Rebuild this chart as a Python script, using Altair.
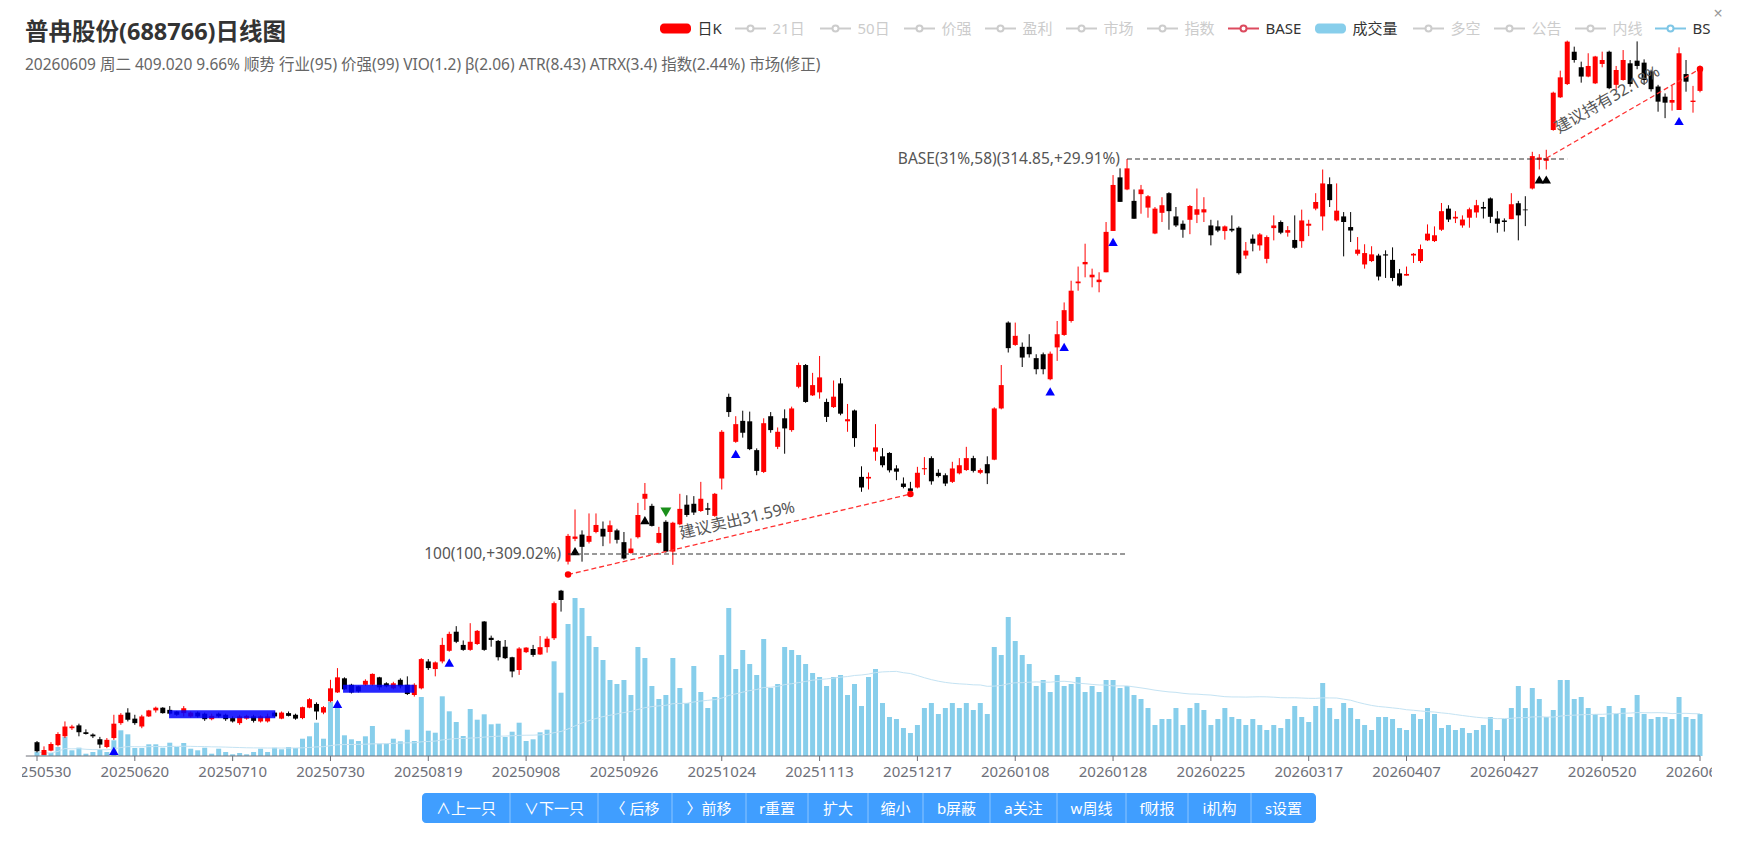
import math
import altair as alt
import numpy as np
import pandas as pd

# ---------------- data ----------------
TICK_EVERY = 14
TICK_LABELS = ["20250530", "20250620", "20250710", "20250730", "20250819", "20250908",
               "20250926", "20251024", "20251113", "20251217", "20260108", "20260128",
               "20260225", "20260317", "20260407", "20260427", "20260520", "20260609"]

OPEN = [57.9, 55.8, 56.5, 57.4, 58.9, 60.3, 60.8, 59.6, 59.2, 58.4,
        57.1, 58.6, 61.2, 63.1, 62.0, 60.6, 62.4, 63.5, 64.0, 63.6,
        63.3, 63.0, 62.4, 63.1, 62.9, 61.9, 62.9, 62.7, 62.1, 61.2,
        62.0, 62.4, 61.5, 61.5, 63.1, 62.0, 63.0, 62.7, 62.1, 64.0,
        64.7, 63.1, 65.2, 66.9, 69.7, 68.4, 68.1, 68.4, 68.4, 69.9,
        68.7, 67.7, 69.4, 68.4, 66.4, 67.7, 73.2, 71.6, 73.2, 75.5,
        79.8, 76.8, 75.7, 77.0, 82.2, 78.4, 77.7, 76.4, 74.1, 71.4,
        75.2, 75.9, 74.7, 76.3, 78.3, 89.9, 97.8, 104.5, 105.8, 103.6,
        106.6, 107.6, 106.6, 107.1, 103.5, 100.3, 105.0, 117.4, 115.0, 103.3,
        109.8, 100.7, 109.0, 115.4, 115.7, 113.3, 114.2, 111.7, 124.5, 157.8,
        138.5, 147.2, 147.0, 135.2, 126.9, 149.2, 136.5, 148.3, 143.3, 162.5,
        173.1, 158.5, 159.9, 155.5, 153.2, 164.1, 147.0, 151.7, 125.1, 124.5,
        134.6, 132.8, 134.1, 128.2, 122.7, 121.0, 121.3, 127.9, 132.1, 126.6,
        125.7, 123.3, 126.4, 127.6, 132.1, 126.6, 129.8, 131.5, 152.6, 195.8,
        183.5, 182.5, 182.5, 176.6, 178.6, 166.1, 182.2, 188.9, 196.7, 219.5,
        231.9, 223.3, 220.2, 226.6, 255.5, 298.5, 288.2, 278.8, 284.3, 273.4,
        253.6, 269.3, 285.1, 266.5, 260.9, 263.9, 267.8, 269.6, 259.6, 258.9,
        255.4, 257.1, 257.9, 237.9, 249.8, 245.0, 235.6, 257.6, 262.2, 254.2,
        248.9, 248.0, 259.4, 272.6, 266.5, 292.7, 263.4, 266.5, 258.4, 239.1,
        231.8, 234.1, 237.9, 238.7, 234.9, 225.9, 224.4, 237.9, 234.1, 248.6,
        248.1, 256.4, 272.6, 264.9, 259.6, 265.5, 269.6, 273.9, 280.8, 264.9,
        263.4, 264.4, 276.9, 271.9, 289.0, 314.1, 313.2, 342.5, 376.6, 391.4,
        429.9, 411.0, 400.0, 392.2, 414.9, 429.9, 390.5, 396.0, 415.7, 418.9,
        416.5, 406.0, 388.6, 377.3, 370.8, 363.0, 402.9, 371.5, 383.7]

HIGH = [58.1, 57.2, 57.9, 59.6, 61.5, 60.9, 61.1, 60.1, 59.4, 58.8,
        58.6, 62.7, 63.0, 63.9, 62.7, 62.7, 63.6, 64.2, 64.1, 64.3,
        63.4, 64.3, 63.3, 63.3, 63.1, 62.9, 63.1, 62.9, 62.4, 62.7,
        62.7, 62.7, 62.6, 62.9, 63.3, 63.3, 63.3, 62.9, 64.2, 65.8,
        65.0, 64.3, 69.4, 71.8, 69.9, 68.6, 68.2, 69.5, 70.7, 70.0,
        68.9, 69.0, 69.7, 70.1, 68.7, 73.9, 73.7, 73.2, 78.4, 79.8,
        81.1, 77.8, 81.8, 80.2, 82.3, 78.9, 77.9, 77.9, 74.2, 76.3,
        76.3, 76.8, 78.8, 78.7, 87.1, 90.1, 106.0, 113.8, 107.1, 112.5,
        112.5, 109.9, 110.2, 107.6, 106.6, 104.6, 116.0, 122.9, 115.7, 108.2,
        110.3, 109.8, 119.1, 118.6, 118.3, 123.3, 116.0, 119.4, 143.3, 159.3,
        149.2, 151.6, 151.2, 135.9, 148.3, 151.0, 144.4, 152.2, 153.4, 174.3,
        173.6, 169.2, 177.7, 157.0, 165.5, 166.7, 154.6, 152.1, 129.0, 126.7,
        145.8, 136.0, 134.4, 129.4, 124.9, 123.3, 128.8, 132.5, 132.8, 127.9,
        126.4, 130.7, 132.1, 136.5, 133.0, 128.2, 132.8, 153.1, 173.1, 196.5,
        195.8, 184.8, 189.3, 178.6, 179.5, 180.0, 196.7, 207.6, 221.1, 230.4,
        246.2, 229.0, 226.6, 262.2, 300.5, 306.4, 314.85, 288.2, 292.0, 283.5,
        273.9, 281.8, 285.9, 273.9, 263.4, 275.5, 289.0, 281.8, 263.9, 263.4,
        259.6, 267.3, 258.9, 247.4, 252.9, 253.9, 252.2, 267.3, 263.4, 259.1,
        267.3, 271.8, 263.9, 285.1, 305.4, 298.5, 293.3, 269.9, 269.9, 251.0,
        245.8, 244.4, 239.1, 241.5, 243.6, 228.8, 230.4, 239.6, 245.6, 260.4,
        258.9, 277.1, 275.3, 270.6, 267.3, 273.4, 279.6, 278.0, 281.6, 270.6,
        265.0, 285.1, 278.8, 282.6, 321.5, 319.3, 323.4, 382.8, 406.9, 444.0,
        436.3, 417.7, 428.0, 424.8, 430.0, 431.2, 412.5, 432.0, 419.7, 443.0,
        420.5, 408.0, 390.5, 380.9, 389.3, 435.4, 419.7, 389.3, 413.0]

LOW = [56.2, 55.8, 56.4, 57.2, 58.6, 60.0, 58.9, 59.2, 58.6, 56.9,
       56.9, 58.3, 60.9, 61.5, 60.9, 60.3, 62.3, 63.1, 62.9, 62.7,
       62.5, 62.4, 62.2, 62.2, 61.6, 61.7, 62.2, 61.6, 61.3, 60.9,
       61.8, 61.3, 61.3, 61.3, 62.2, 61.9, 62.4, 61.8, 61.9, 63.9,
       61.8, 62.8, 65.0, 66.8, 67.4, 66.7, 66.9, 68.2, 68.2, 67.4,
       67.9, 67.5, 67.7, 66.4, 66.1, 67.5, 71.4, 70.1, 72.8, 75.3,
       77.2, 75.5, 75.5, 76.8, 75.5, 76.4, 73.4, 73.7, 69.9, 70.4,
       75.0, 74.2, 74.6, 75.1, 77.9, 84.6, 97.0, 103.8, 97.8, 103.1,
       106.2, 102.3, 103.1, 103.1, 98.4, 100.1, 104.6, 113.6, 108.3, 103.1,
       100.4, 96.9, 108.7, 111.4, 112.0, 113.0, 112.0, 111.4, 120.6, 148.9,
       138.1, 140.2, 135.2, 125.7, 126.5, 142.2, 135.6, 133.8, 142.6, 161.8,
       155.1, 158.2, 157.0, 146.7, 152.8, 149.6, 142.6, 136.5, 119.8, 120.6,
       131.1, 128.6, 126.7, 123.9, 121.0, 118.9, 121.0, 125.8, 122.3, 124.9,
       121.8, 122.9, 126.0, 127.3, 126.7, 126.1, 122.5, 131.3, 152.2, 179.5,
       183.0, 172.1, 176.9, 168.5, 168.5, 165.6, 175.2, 188.4, 195.8, 214.8,
       223.3, 216.9, 213.8, 226.6, 255.5, 278.0, 287.6, 264.7, 268.6, 265.5,
       253.1, 262.2, 256.4, 258.4, 250.5, 253.1, 261.4, 262.2, 245.0, 254.6,
       249.1, 254.6, 225.1, 235.6, 240.8, 241.3, 232.6, 248.6, 253.1, 251.3,
       242.6, 243.3, 251.7, 271.3, 255.8, 273.9, 262.7, 237.3, 247.4, 237.9,
       229.0, 233.4, 221.3, 222.9, 220.8, 217.4, 224.4, 232.8, 232.8, 248.1,
       247.4, 255.5, 262.2, 261.4, 257.9, 257.9, 265.5, 264.9, 261.4, 254.2,
       255.0, 264.4, 248.6, 259.1, 288.2, 305.4, 305.4, 341.8, 375.9, 390.3,
       416.5, 393.0, 399.2, 391.4, 410.9, 385.6, 384.9, 395.3, 388.4, 408.6,
       390.3, 383.0, 361.2, 354.5, 362.3, 363.0, 382.8, 360.2, 382.1]

CLOSE = [56.4, 56.6, 57.6, 59.3, 60.6, 60.6, 59.6, 59.3, 58.9, 57.5,
         58.3, 61.1, 62.7, 61.8, 61.2, 62.4, 63.5, 64.0, 63.0, 62.9,
         62.7, 63.9, 63.1, 62.4, 61.9, 62.5, 62.4, 61.9, 61.5, 62.4,
         62.5, 61.6, 62.4, 62.4, 62.4, 63.1, 62.5, 62.0, 64.1, 65.6,
         63.3, 64.1, 67.7, 69.9, 67.5, 66.9, 67.1, 69.2, 70.6, 67.9,
         68.1, 68.7, 68.1, 66.6, 68.4, 73.7, 71.8, 73.0, 76.8, 79.3,
         77.5, 75.7, 77.5, 80.0, 75.7, 77.9, 74.1, 73.9, 71.1, 76.0,
         76.2, 74.6, 76.3, 78.2, 86.7, 87.5, 105.4, 105.2, 102.1, 105.4,
         108.8, 105.2, 108.7, 104.2, 98.7, 101.6, 112.0, 119.1, 108.5, 106.3,
         100.7, 109.5, 114.0, 112.0, 112.8, 117.4, 113.7, 119.1, 142.6, 151.0,
         145.8, 142.2, 135.6, 127.3, 146.2, 143.3, 142.6, 144.0, 152.6, 173.1,
         155.5, 163.3, 167.0, 148.9, 157.9, 150.3, 147.9, 140.0, 121.3, 125.1,
         136.3, 129.4, 127.5, 127.0, 121.5, 120.1, 126.6, 128.3, 123.5, 125.4,
         122.7, 128.2, 129.4, 132.1, 127.3, 127.6, 126.4, 152.6, 163.3, 181.8,
         188.4, 176.9, 178.6, 171.0, 171.0, 178.9, 189.3, 203.0, 214.8, 220.6,
         233.5, 225.0, 221.8, 254.8, 292.0, 278.0, 306.4, 264.7, 288.2, 282.6,
         272.6, 275.3, 270.6, 259.6, 256.4, 274.7, 272.1, 272.1, 252.3, 255.8,
         258.9, 255.8, 226.0, 241.3, 246.2, 252.9, 251.0, 259.6, 254.2, 256.1,
         243.3, 263.4, 260.9, 277.9, 293.3, 279.4, 271.0, 262.2, 255.8, 242.0,
         239.6, 238.7, 223.8, 237.9, 222.9, 218.0, 225.5, 239.1, 242.4, 253.5,
         252.3, 270.6, 264.1, 266.2, 264.1, 272.1, 275.3, 272.6, 266.2, 260.9,
         262.2, 276.1, 267.3, 271.3, 317.5, 316.2, 315.5, 381.7, 399.1, 442.7,
         419.7, 400.0, 412.5, 424.0, 419.7, 386.7, 407.7, 419.7, 391.4, 412.5,
         396.0, 385.6, 371.9, 370.8, 373.7, 428.0, 394.1, 373.0, 409.02]

VOLUME = [4, 2.3, 3, 9, 19, 5.7, 8.3, 2.3, 4, 6.7,
          4, 15.7, 25.7, 21.7, 8, 8, 11.7, 11.7, 8.3, 13.3,
          9, 13, 7.3, 5.7, 8.3, 2.3, 7.3, 4, 1.7, 3,
          1.7, 4, 7.3, 4, 8.3, 6.7, 9, 8, 17.3, 19.7,
          33.3, 17.3, 54, 49, 20.7, 16.7, 15, 19.7, 30, 12.3,
          12.3, 17.3, 14.7, 26.3, 15, 59, 25.3, 23.3, 59.7, 44.7,
          34, 20, 47, 36.3, 41.7, 31.7, 32.3, 19, 24.3, 33.3,
          15, 16.7, 23.7, 26.3, 94.7, 63.3, 132, 158, 148, 120,
          109, 96, 76, 72, 76, 61, 109, 98, 70, 57,
          61, 98, 68, 53, 90, 64, 48, 59, 101, 148,
          87, 106, 92, 81, 117, 68, 72, 109, 106, 101,
          92, 83, 79, 70, 79, 81, 61, 72, 50, 79,
          87, 53, 39, 37, 28, 23, 31, 48, 53, 42,
          48, 53, 48, 53, 46, 53, 42, 109, 101, 139,
          115, 101, 92, 70, 76, 64, 81, 70, 72, 79,
          64, 70, 64, 76, 76, 68, 70, 61, 57, 48,
          31, 37, 37, 48, 31, 48, 53, 46, 31, 37,
          48, 39, 37, 31, 37, 31, 26, 31, 28, 37,
          50, 39, 34, 50, 73, 48, 37, 53, 48, 37,
          31, 26, 39, 39, 37, 28, 26, 42, 37, 48,
          42, 28, 31, 26, 28, 23, 26, 31, 39, 26,
          37, 48, 70, 48, 68, 57, 39, 46, 76, 76,
          57, 59, 48, 42, 39, 50, 42, 48, 39, 61,
          42, 37, 39, 39, 37, 59, 39, 37, 42]

# buy / sell markers (candle index)
BS_BLUE_UP = [11, 43, 59, 100, 145, 147, 154, 235]
BS_BLACK_UP = [77, 87, 215, 216]
BS_GREEN_DOWN = [90]

# consolidation boxes (index range, price)
BOX_FROM = [18.9, 43.8]
BOX_TO = [34.1, 54.0]
BOX_PRICE = [62.8, 67.6]

# horizontal reference levels
LEVEL_FROM = [76, 156]
LEVEL_TO = [156, 219]
LEVEL_PRICE = [100.0, 314.85]
LEVEL_TEXT = ["100(100,+309.02%)", "BASE(31%,58)(314.85,+29.91%)"]

# suggestion trend lines
TREND_FROM = [76, 216]
TREND_FROM_PRICE = [94.2, 315.5]
TREND_TO = [125, 238]
TREND_TO_PRICE = [119.0, 409.02]
TREND_START_DOT = [True, False]
TREND_TEXT = ["建议卖出31.59%", "建议持有32.18%"]
TREND_TEXT_AT = [0.335, 0.13]

LEGEND_LABELS = ["日K", "21日", "50日", "价强", "盈利", "市场", "指数", "BASE", "成交量", "多空", "公告", "内线", "BS"]
LEGEND_KIND = ["bar", "line", "line", "line", "line", "line", "line", "line", "bar", "line", "line", "line", "line"]
LEGEND_ON = [True, False, False, False, False, False, False, True, True, False, False, False, True]

BUTTON_LABELS = ["∧上一只", "∨下一只", "〈 后移", "〉前移", "r重置", "扩大", "缩小",
                 "b屏蔽", "a关注", "w周线", "f财报", "i机构", "s设置"]

TITLE = "普冉股份(688766)日线图"
SUBTITLE = "20260609 周二 409.020 9.66% 顺势 行业(95) 价强(99) VIO(1.2) β(2.06) ATR(8.43) ATRX(3.4) 指数(2.44%) 市场(修正)"

# ---------------- layout & style ----------------
FONT = "Noto Sans, Noto Sans CJK SC"
UP, DOWN = "#ff0000", "#000000"
VOL_COLOR = "#87ceeb"
AXIS_COLOR = "#6e7079"
PL = 22                      # page x of plot-area left edge
W, H = 1690, 850
X_FIRST, X_LAST = 32, 1705   # page x of first / last candle
Y_100, Y_BASE = 554, 159     # page y of price 100 / 314.85
VOL_BASE = 756               # page y of volume zero / axis line
LEGEND_SYMBOL_X = [660, 735, 820, 904, 985, 1066, 1147, 1228, 1315, 1413, 1494, 1575, 1655]
LEGEND_COLORS = {"日K": UP, "BASE": "#dc4a5e", "成交量": VOL_COLOR, "BS": "#7ec6e6"}
BUTTON_EDGES = [422, 510, 598, 672, 746, 808, 868, 923, 990, 1057, 1126, 1188, 1251, 1316]
BTN_TOP, BTN_BOTTOM = 793, 823


def px(x):
    return x - PL


N = len(CLOSE)
df = pd.DataFrame({"idx": np.arange(N), "open": OPEN, "high": HIGH, "low": LOW,
                   "close": CLOSE, "vol": VOLUME})

x_scale = alt.Scale(domain=[0, N - 1], range=[px(X_FIRST), px(X_LAST)], nice=False, zero=False)
price_scale = alt.Scale(type="log", domain=[100, 314.85], range=[Y_100, Y_BASE], nice=False)
vol_scale = alt.Scale(domain=[0, 200], range=[VOL_BASE, VOL_BASE - 200], nice=False)
X = alt.X("idx:Q", scale=x_scale, axis=None)
updown = alt.condition("datum.close >= datum.open", alt.value(UP), alt.value(DOWN))

# ---- volume panel + x axis ----
vol_bars = alt.Chart(df).mark_bar(size=5, orient="vertical", color=VOL_COLOR).encode(
    x=X, y=alt.Y("vol:Q", scale=vol_scale, axis=None))
vol_ma = alt.Chart(df).transform_window(
    ma="mean(vol)", frame=[-49, 0], sort=[alt.SortField("idx")]
).mark_line(color="#c4e3f3", strokeWidth=1).encode(
    x=X, y=alt.Y("ma:Q", scale=vol_scale, axis=None))

axis_df = pd.DataFrame({"a": [-1.6], "b": [N - 1], "v": [0]})
axis_line = alt.Chart(axis_df).mark_rule(color=AXIS_COLOR, strokeWidth=1).encode(
    x=alt.X("a:Q", scale=x_scale, axis=None), x2="b:Q",
    y=alt.Y("v:Q", scale=vol_scale, axis=None))

ticks_df = pd.DataFrame({"idx": [k * TICK_EVERY for k in range(len(TICK_LABELS))],
                         "label": TICK_LABELS, "v0": 0, "v1": -5})
tick_marks = alt.Chart(ticks_df).mark_rule(color=AXIS_COLOR).encode(
    x=X, y=alt.Y("v0:Q", scale=vol_scale, axis=None), y2="v1:Q")
tick_labels = alt.Chart(ticks_df).mark_text(
    font=FONT, fontSize=15, color=AXIS_COLOR, baseline="alphabetic", align="center", clip=True
).encode(x=X, y=alt.value(777), text="label:N")

vol_layer = alt.layer(vol_bars, vol_ma, axis_line, tick_marks, tick_labels)

# ---- price panel ----
Yp = lambda f: alt.Y(f, scale=price_scale, axis=None)
wicks = alt.Chart(df).mark_rule(strokeWidth=1).encode(x=X, y=Yp("low:Q"), y2="high:Q", color=updown)
bodies = alt.Chart(df).mark_bar(size=5, orient="vertical").encode(
    x=X, y=Yp("open:Q"), y2="close:Q", color=updown)

box_df = pd.DataFrame({"a": BOX_FROM, "b": BOX_TO, "p": BOX_PRICE})
boxes = alt.Chart(box_df).mark_rule(strokeWidth=8, color="#0000ff", opacity=0.85, strokeCap="butt").encode(
    x=alt.X("a:Q", scale=x_scale, axis=None), x2="b:Q", y=Yp("p:Q"))

blue_df = pd.DataFrame({"idx": BS_BLUE_UP, "p": [LOW[i] for i in BS_BLUE_UP]})
black_df = pd.DataFrame({"idx": BS_BLACK_UP, "p": [LOW[i] for i in BS_BLACK_UP]})
green_df = pd.DataFrame({"idx": BS_GREEN_DOWN, "p": [HIGH[i] for i in BS_GREEN_DOWN]})
tri_blue = alt.Chart(blue_df).mark_point(shape="triangle-up", filled=True, size=90, color="#0000ff",
                                         opacity=1, yOffset=11).encode(x=X, y=Yp("p:Q"))
tri_black = alt.Chart(black_df).mark_point(shape="triangle-up", filled=True, size=90, color="#000000",
                                           opacity=1, yOffset=10).encode(x=X, y=Yp("p:Q"))
tri_green = alt.Chart(green_df).mark_point(shape="triangle-down", filled=True, size=120, color="#1a8f1a",
                                           opacity=1, yOffset=-8).encode(x=X, y=Yp("p:Q"))

lvl_df = pd.DataFrame({"a": LEVEL_FROM, "b": LEVEL_TO, "p": LEVEL_PRICE, "t": LEVEL_TEXT})
levels = alt.Chart(lvl_df).mark_rule(strokeDash=[5, 3], color="#333333", strokeWidth=1.2).encode(
    x=alt.X("a:Q", scale=x_scale, axis=None), x2="b:Q", y=Yp("p:Q"))
level_text = alt.Chart(lvl_df).mark_text(font=FONT, fontSize=15.5, color="#555555", align="right",
                                         baseline="middle", dx=-7).encode(
    x=alt.X("a:Q", scale=x_scale, axis=None), y=Yp("p:Q"), text="t:N")

PX_PER_IDX = (X_LAST - X_FIRST) / (N - 1)
PX_PER_LN = (Y_100 - Y_BASE) / math.log(314.85 / 100)
trend_df = pd.DataFrame({"a": TREND_FROM, "pa": TREND_FROM_PRICE, "b": TREND_TO, "pb": TREND_TO_PRICE})
trends = alt.Chart(trend_df).mark_rule(strokeDash=[5, 3], color="#ff3030", strokeWidth=1.3).encode(
    x=alt.X("a:Q", scale=x_scale, axis=None), x2="b:Q", y=Yp("pa:Q"), y2="pb:Q")
dot_idx, dot_p = [], []
for k in range(len(TREND_FROM)):
    if TREND_START_DOT[k]:
        dot_idx.append(TREND_FROM[k]); dot_p.append(TREND_FROM_PRICE[k])
    dot_idx.append(TREND_TO[k]); dot_p.append(TREND_TO_PRICE[k])
dots = alt.Chart(pd.DataFrame({"idx": dot_idx, "p": dot_p})).mark_circle(
    size=42, color="#ff0000", opacity=1).encode(x=X, y=Yp("p:Q"))

trend_texts = []
for k in range(len(TREND_FROM)):
    f = TREND_TEXT_AT[k]
    i_at = TREND_FROM[k] + f * (TREND_TO[k] - TREND_FROM[k])
    lp0, lp1 = math.log(TREND_FROM_PRICE[k]), math.log(TREND_TO_PRICE[k])
    p_at = math.exp(lp0 + f * (lp1 - lp0))
    ang = math.degrees(math.atan2((lp1 - lp0) * PX_PER_LN, (TREND_TO[k] - TREND_FROM[k]) * PX_PER_IDX))
    tdf = pd.DataFrame({"idx": [i_at], "p": [p_at], "t": [TREND_TEXT[k]]})
    trend_texts.append(alt.Chart(tdf).mark_text(
        font=FONT, fontSize=16, color="#555555", align="left", baseline="bottom",
        angle=360 - ang, dy=-6 if k == 0 else -12).encode(x=X, y=Yp("p:Q"), text="t:N"))

price_layer = alt.layer(wicks, bodies, boxes, tri_blue, tri_black, tri_green, levels, level_text,
                        trends, dots, *trend_texts)

# ---- header: title, subtitle, legend ----
title = alt.Chart(pd.DataFrame({"t": [TITLE]})).mark_text(
    font=FONT, fontSize=23.5, fontWeight="bold", color="#333333", align="left", baseline="alphabetic"
).encode(x=alt.value(px(25)), y=alt.value(40), text="t:N")
subtitle = alt.Chart(pd.DataFrame({"t": [SUBTITLE]})).mark_text(
    font=FONT, fontSize=15.5, color="#666666", align="left", baseline="alphabetic"
).encode(x=alt.value(px(25)), y=alt.value(69.5), text="t:N")

leg = pd.DataFrame({"label": LEGEND_LABELS, "kind": LEGEND_KIND, "on": LEGEND_ON,
                    "sx": [px(v) for v in LEGEND_SYMBOL_X]})
leg["sx2"] = leg["sx"] + 31
leg["cx"] = leg["sx"] + 15.5
leg["tx"] = leg["sx"] + 37.5
leg["col"] = [LEGEND_COLORS.get(l, "#cccccc") if o else "#cccccc" for l, o in zip(LEGEND_LABELS, LEGEND_ON)]
leg["tcol"] = ["#333333" if o else "#cccccc" for o in LEGEND_ON]
LY = 28.5
noaxis_x = lambda f: alt.X(f, scale=None, axis=None)
leg_rect = alt.Chart(leg).transform_filter("datum.kind == 'bar'").mark_rect(cornerRadius=4).encode(
    x=noaxis_x("sx:Q"), x2="sx2:Q", y=alt.value(LY - 5), y2=alt.value(LY + 5),
    color=alt.Color("col:N", scale=None, legend=None))
leg_line = alt.Chart(leg).transform_filter("datum.kind == 'line'").mark_rule(strokeWidth=2).encode(
    x=noaxis_x("sx:Q"), x2="sx2:Q", y=alt.value(LY),
    color=alt.Color("col:N", scale=None, legend=None))
leg_dot = alt.Chart(leg).transform_filter("datum.kind == 'line'").mark_point(
    shape="circle", filled=False, fill="white", fillOpacity=1, size=36, strokeWidth=2, opacity=1).encode(
    x=noaxis_x("cx:Q"), y=alt.value(LY), stroke=alt.Stroke("col:N", scale=None, legend=None))
leg_text = alt.Chart(leg).mark_text(font=FONT, fontSize=15, align="left", baseline="middle").encode(
    x=noaxis_x("tx:Q"), y=alt.value(LY + 0.5), text="label:N",
    color=alt.Color("tcol:N", scale=None, legend=None))
close_x = alt.Chart(pd.DataFrame({"t": ["×"]})).mark_text(
    font=FONT, fontSize=16, color="#999999", align="center", baseline="middle"
).encode(x=alt.value(px(1718)), y=alt.value(14), text="t:N")

# ---- toolbar buttons ----
btn = pd.DataFrame({"label": BUTTON_LABELS,
                    "x0": [px(v) for v in BUTTON_EDGES[:-1]],
                    "x1": [px(v) for v in BUTTON_EDGES[1:]]})
btn["cx"] = (btn["x0"] + btn["x1"]) / 2
bg = pd.DataFrame({"x0": [px(BUTTON_EDGES[0])], "x1": [px(BUTTON_EDGES[-1])]})
btn_bg = alt.Chart(bg).mark_rect(color="#409eff", cornerRadius=4).encode(
    x=noaxis_x("x0:Q"), x2="x1:Q", y=alt.value(BTN_TOP), y2=alt.value(BTN_BOTTOM))
btn_sep = alt.Chart(btn.iloc[1:]).mark_rule(color="#8cc5ff", strokeWidth=1).encode(
    x=noaxis_x("x0:Q"), y=alt.value(BTN_TOP), y2=alt.value(BTN_BOTTOM))
btn_text = alt.Chart(btn).mark_text(font=FONT, fontSize=15, color="white", align="center",
                                    baseline="middle").encode(
    x=noaxis_x("cx:Q"), y=alt.value((BTN_TOP + BTN_BOTTOM) / 2 + 0.5), text="label:N")

chart = alt.layer(
    vol_layer, price_layer, title, subtitle, leg_rect, leg_line, leg_dot, leg_text, close_x,
    btn_bg, btn_sep, btn_text
).resolve_scale(x="independent", y="independent", color="independent", stroke="independent").properties(
    width=W, height=H,
    padding={"left": PL, "top": 0, "right": 1744 - PL - W, "bottom": 0},
    autosize=alt.AutoSizeParams(type="none"),
    background="white",
).configure_view(stroke=None)

chart.save("out.html", embed_options={"renderer": "svg", "actions": False})
